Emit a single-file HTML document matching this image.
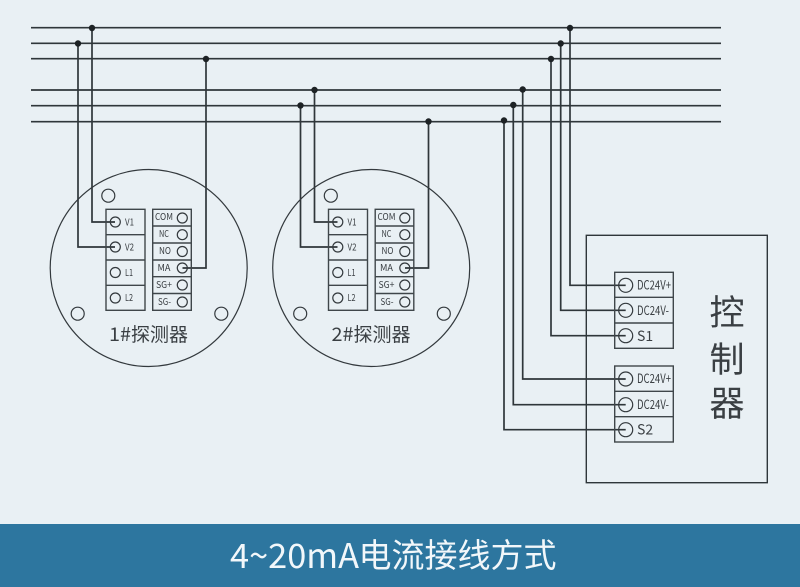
<!DOCTYPE html>
<html><head><meta charset="utf-8"><style>
html,body{margin:0;padding:0;background:#e9f0f4;width:800px;height:587px;overflow:hidden}
svg{display:block}
text{font-family:"Noto Sans CJK SC","Liberation Sans",sans-serif;fill:#3a3f43}
.w{fill:none;stroke:#2f363a;stroke-width:1.7}
.b{fill:none;stroke:#3f464a;stroke-width:1.4}
.c{fill:none;stroke:#33393d;stroke-width:1.2}
.s{font-size:9.5px}
.t{font-size:12.5px}
</style></head><body>
<svg width="800" height="587" viewBox="0 0 800 587" xmlns="http://www.w3.org/2000/svg">
<rect width="800" height="587" fill="#e9f0f4"/>
<g class="w">
<path d="M31 27.7H721M31 43.3H721M31 58.7H721M31 90H721M31 105.7H721M31 121.7H721"/>
<path d="M92 28V222H115M78 43.5V247H115M206 59V268H182.5"/>
<path d="M314.5 90V222H337.5M300.5 106V247H337.5M428.5 122V268H405"/>
<path d="M570 28V285.3H625.7M560.7 43.5V310.3H625.7M551 59V335.7H625.7M522.7 90V379H625.7M513.3 106V404.7H625.7M504 121V429.7H625.7"/>
</g>
<g fill="#1d2225">
<circle cx="92" cy="28" r="3.2"/><circle cx="78" cy="43.5" r="3.2"/><circle cx="206" cy="59" r="3.2"/>
<circle cx="314.5" cy="90" r="3.2"/><circle cx="300.5" cy="105.5" r="3.2"/><circle cx="428.5" cy="121.5" r="3.2"/>
<circle cx="570" cy="28" r="3.2"/><circle cx="560.7" cy="43.5" r="3.2"/><circle cx="551" cy="59" r="3.2"/>
<circle cx="522.7" cy="89.5" r="3.2"/><circle cx="513.3" cy="105" r="3.2"/><circle cx="504" cy="120.5" r="3.2"/>
</g>

<g id="d1">
<circle class="c" cx="148.7" cy="268" r="98.5"/>
<circle class="c" cx="108.3" cy="195.7" r="6.5"/><circle class="c" cx="77.7" cy="313.7" r="6.5"/><circle class="c" cx="221.3" cy="313.7" r="6.5"/>
<rect class="b" x="106" y="209.3" width="39" height="101"/>
<path class="b" d="M106 234.7H145M106 260H145M106 285.3H145"/>
<rect class="b" x="152.7" y="209.3" width="38.6" height="101"/>
<path class="b" d="M152.7 226H191.3M152.7 243H191.3M152.7 260H191.3M152.7 276.7H191.3M152.7 293.5H191.3"/>
<g class="c">
<circle cx="115.3" cy="222" r="5"/><circle cx="115.3" cy="247" r="5"/><circle cx="115.3" cy="272.5" r="5"/><circle cx="115.3" cy="298" r="5"/>
<circle cx="182.3" cy="218" r="5"/><circle cx="182.3" cy="234.7" r="5"/><circle cx="182.3" cy="251.5" r="5"/><circle cx="182.3" cy="268" r="5"/><circle cx="182.3" cy="285" r="5"/><circle cx="182.3" cy="302" r="5"/>
</g>
<g class="s">
<text x="125" y="225.500" textLength="9" lengthAdjust="spacingAndGlyphs">V1</text><text x="125" y="250.500" textLength="9" lengthAdjust="spacingAndGlyphs">V2</text><text x="125" y="276" textLength="8" lengthAdjust="spacingAndGlyphs">L1</text><text x="125" y="301" textLength="8" lengthAdjust="spacingAndGlyphs">L2</text>
<text x="155" y="220" textLength="18" lengthAdjust="spacingAndGlyphs">COM</text><text x="159" y="237" textLength="10" lengthAdjust="spacingAndGlyphs">NC</text><text x="159" y="254" textLength="12" lengthAdjust="spacingAndGlyphs">NO</text><text x="157.500" y="271" textLength="13" lengthAdjust="spacingAndGlyphs">MA</text><text x="156" y="288" textLength="16" lengthAdjust="spacingAndGlyphs">SG+</text><text x="158" y="305" textLength="13" lengthAdjust="spacingAndGlyphs">SG-</text>
</g>
<text x="109" y="341" style="font-size:19px" textLength="22" lengthAdjust="spacingAndGlyphs">1#</text>
<text x="131" y="341" style="font-size:19px">探测器</text>
</g>

<g id="d2">
<circle class="c" cx="371.200" cy="268" r="98.5"/>
<circle class="c" cx="330.800" cy="195.7" r="6.5"/><circle class="c" cx="300.200" cy="313.7" r="6.5"/><circle class="c" cx="443.800" cy="313.7" r="6.5"/>
<rect class="b" x="328.500" y="209.3" width="39" height="101"/>
<path class="b" d="M328.500 234.7H367.500M328.500 260H367.500M328.500 285.3H367.500"/>
<rect class="b" x="375.200" y="209.3" width="38.6" height="101"/>
<path class="b" d="M375.200 226H413.800M375.200 243H413.800M375.200 260H413.800M375.200 276.7H413.800M375.200 293.5H413.800"/>
<g class="c">
<circle cx="337.800" cy="222" r="5"/><circle cx="337.800" cy="247" r="5"/><circle cx="337.800" cy="272.5" r="5"/><circle cx="337.800" cy="298" r="5"/>
<circle cx="404.800" cy="218" r="5"/><circle cx="404.800" cy="234.7" r="5"/><circle cx="404.800" cy="251.5" r="5"/><circle cx="404.800" cy="268" r="5"/><circle cx="404.800" cy="285" r="5"/><circle cx="404.800" cy="302" r="5"/>
</g>
<g class="s">
<text x="347.500" y="225.500" textLength="9" lengthAdjust="spacingAndGlyphs">V1</text><text x="347.500" y="250.500" textLength="9" lengthAdjust="spacingAndGlyphs">V2</text><text x="347.500" y="276" textLength="8" lengthAdjust="spacingAndGlyphs">L1</text><text x="347.500" y="301" textLength="8" lengthAdjust="spacingAndGlyphs">L2</text>
<text x="377.500" y="220" textLength="18" lengthAdjust="spacingAndGlyphs">COM</text><text x="381.500" y="237" textLength="10" lengthAdjust="spacingAndGlyphs">NC</text><text x="381.500" y="254" textLength="12" lengthAdjust="spacingAndGlyphs">NO</text><text x="380" y="271" textLength="13" lengthAdjust="spacingAndGlyphs">MA</text><text x="378.500" y="288" textLength="16" lengthAdjust="spacingAndGlyphs">SG+</text><text x="380.500" y="305" textLength="13" lengthAdjust="spacingAndGlyphs">SG-</text>
</g>
<text x="331.500" y="341" style="font-size:19px" textLength="22" lengthAdjust="spacingAndGlyphs">2#</text>
<text x="353.500" y="341" style="font-size:19px">探测器</text>
</g>

<rect x="586.300" y="235.300" width="181" height="247.400" fill="none" stroke="#2f363a" stroke-width="1.4"/>
<rect class="b" x="614.700" y="272.300" width="58.600" height="76"/>
<path class="b" d="M614.700 297.300H673.300M614.700 323H673.300"/>
<rect class="b" x="614.700" y="366" width="58.600" height="76"/>
<path class="b" d="M614.700 391.300H673.300M614.700 416.700H673.300"/>
<g class="c">
<circle cx="625.700" cy="285.300" r="7"/><circle cx="625.700" cy="310.300" r="7"/><circle cx="625.700" cy="335.700" r="7"/>
<circle cx="625.700" cy="379" r="7"/><circle cx="625.700" cy="404.700" r="7"/><circle cx="625.700" cy="429.700" r="7"/>
</g>
<g class="t">
<text x="637" y="289.500" textLength="34" lengthAdjust="spacingAndGlyphs">DC24V+</text>
<text x="637" y="315" textLength="32" lengthAdjust="spacingAndGlyphs">DC24V-</text>
<text x="637" y="383" textLength="34" lengthAdjust="spacingAndGlyphs">DC24V+</text>
<text x="637" y="409" textLength="32" lengthAdjust="spacingAndGlyphs">DC24V-</text>
</g>
<text x="637" y="341" style="font-size:14px">S1</text>
<text x="637" y="434.500" style="font-size:14px">S2</text>
<g style="font-size:35px">
<text x="709.500" y="325">控</text>
<text x="709.500" y="372">制</text>
<text x="709.500" y="416">器</text>
</g>

<rect x="0" y="524" width="800" height="63" fill="#2d769f"/>
<text x="230" y="568" style="font-size:34px;fill:#f2f7fa" textLength="129" lengthAdjust="spacingAndGlyphs">4~20mA</text>
<text x="358.500" y="567" style="font-size:33px;fill:#f2f7fa">电流接线方式</text>
</svg>
</body></html>
